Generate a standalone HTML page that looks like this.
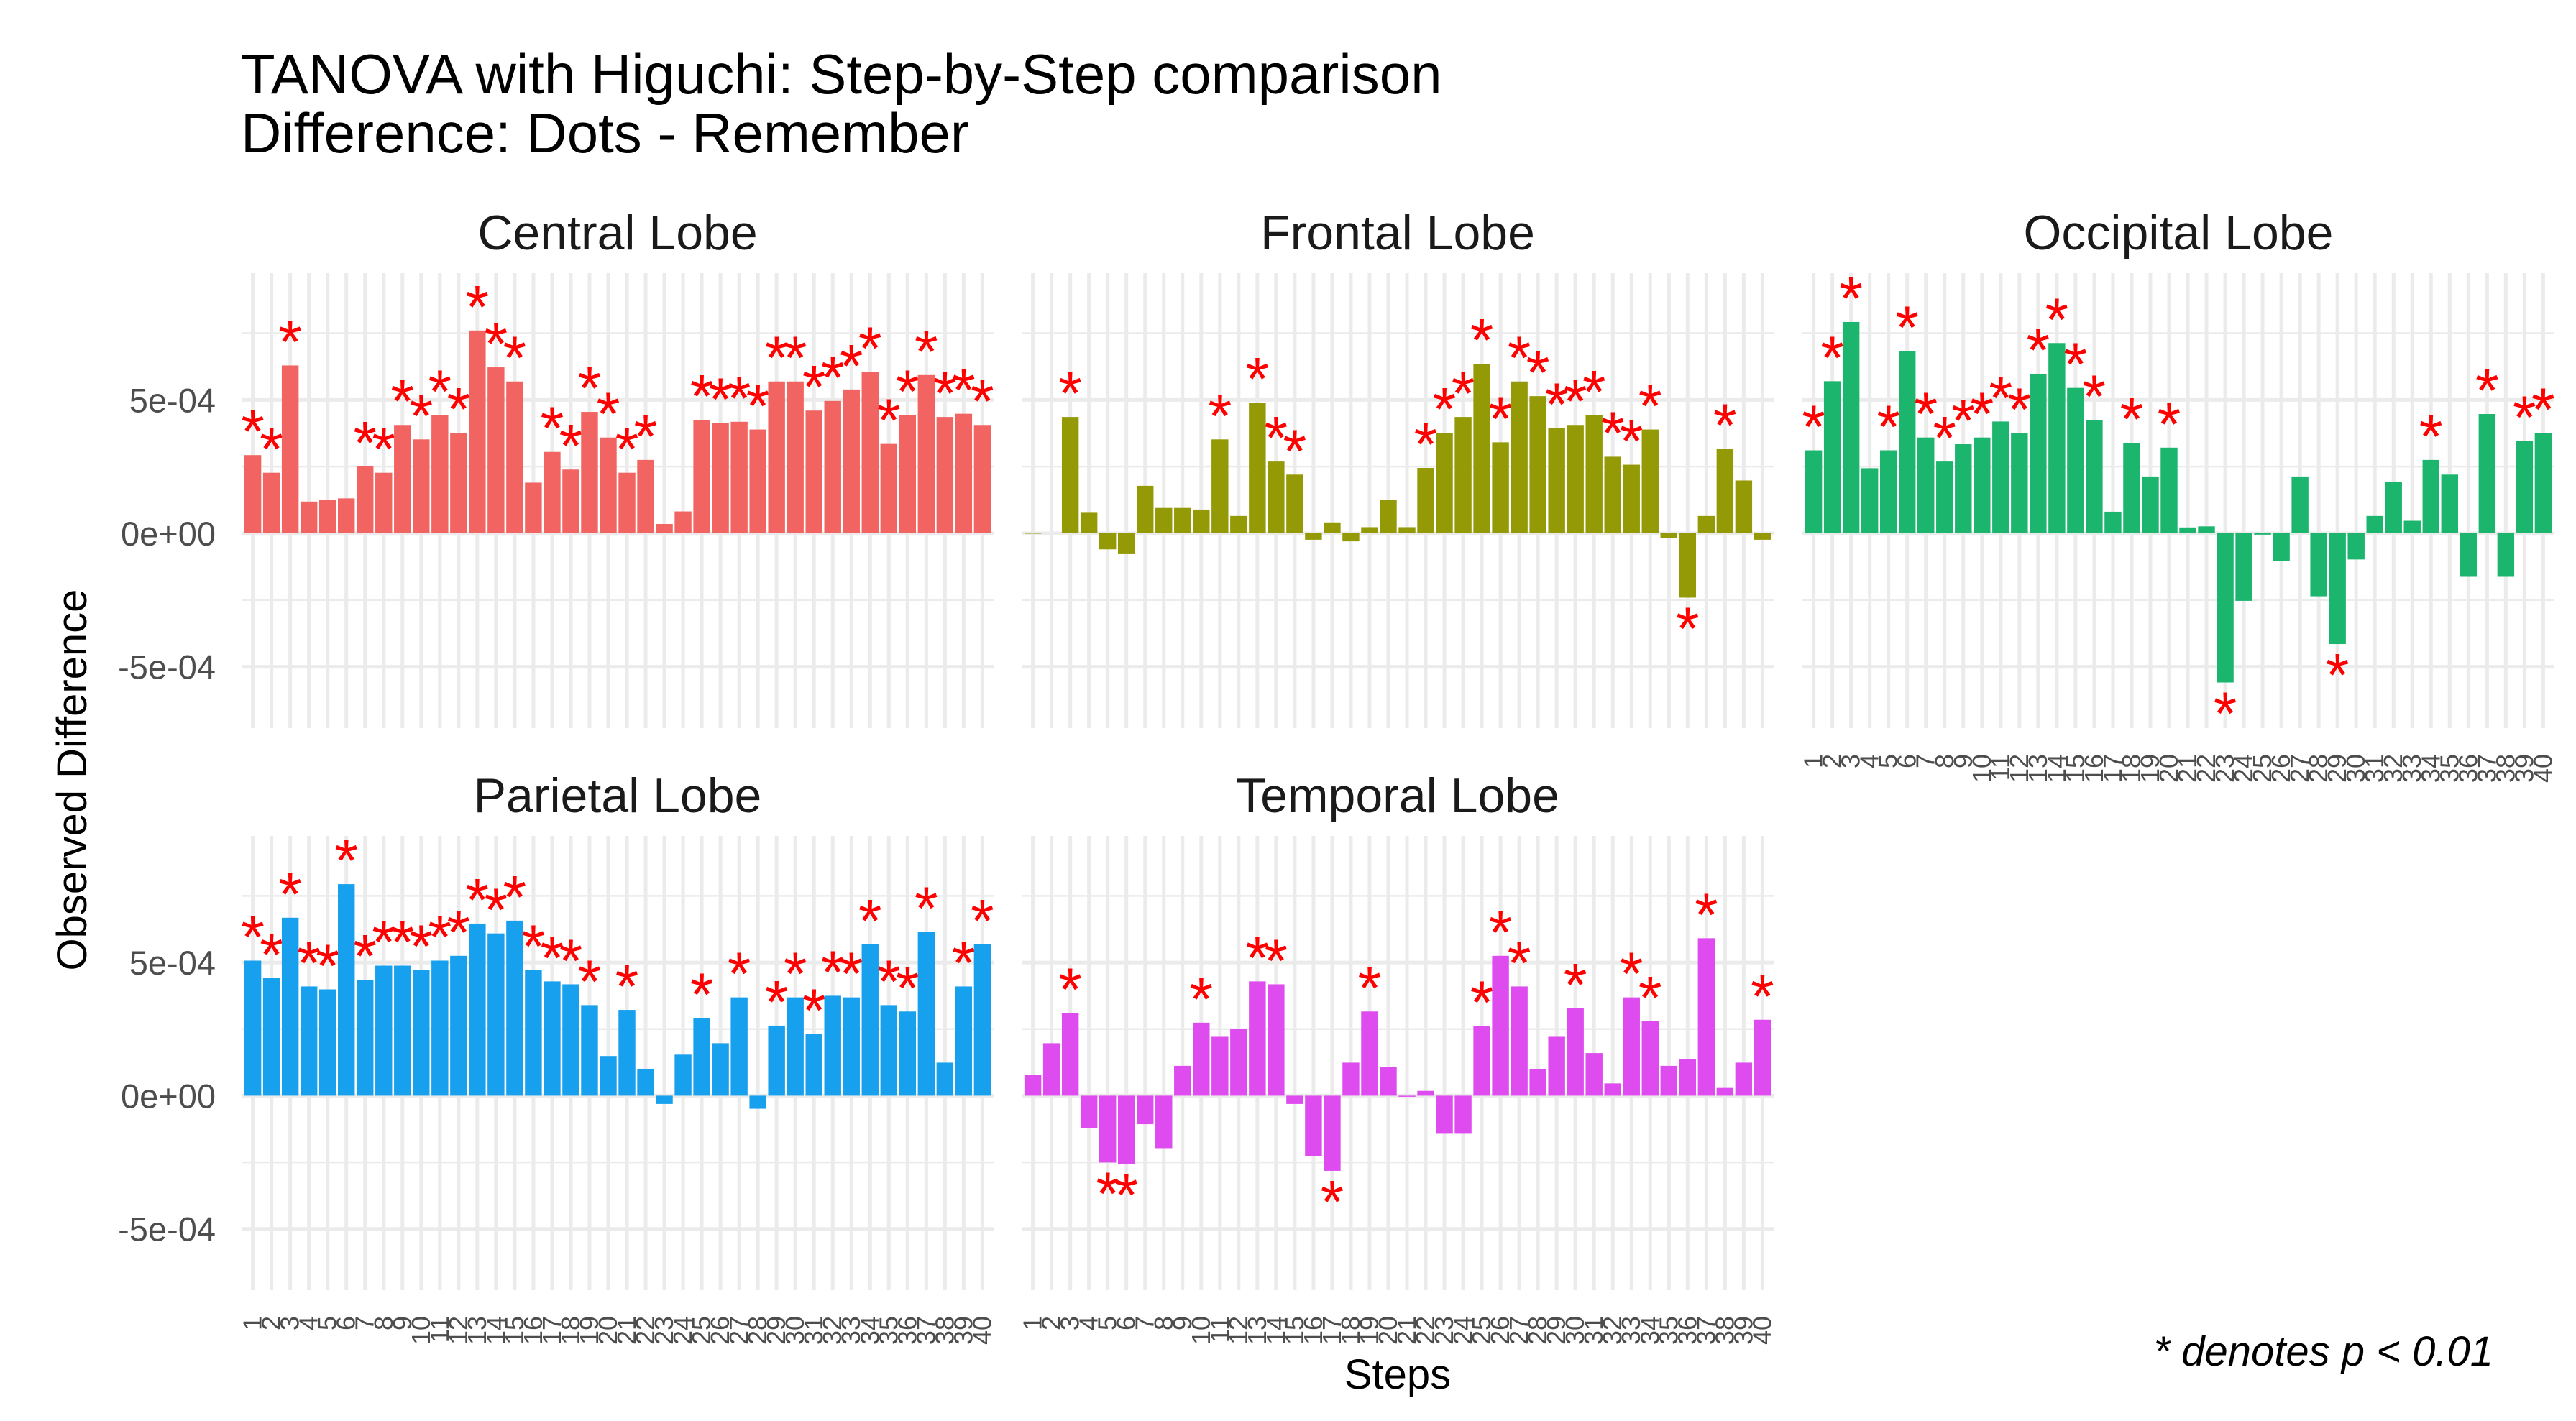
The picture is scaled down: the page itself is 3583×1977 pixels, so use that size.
<!DOCTYPE html>
<html><head><meta charset="utf-8"><style>
html,body{margin:0;padding:0;background:#fff;}
svg{display:block;font-family:"Liberation Sans",Arial,sans-serif;}
</style></head><body>
<svg id="chart" width="3583" height="1977" viewBox="0 0 3583 1977" xmlns="http://www.w3.org/2000/svg">
<text x="335" y="130" font-size="78" fill="#000">TANOVA with Higuchi: Step-by-Step comparison</text>
<text x="335" y="212" font-size="78" fill="#000">Difference: Dots - Remember</text>
<text transform="translate(120,1085) rotate(-90)" text-anchor="middle" font-size="58" fill="#000">Observed Difference</text>
<text x="1944" y="1932" text-anchor="middle" font-size="58" fill="#000">Steps</text>
<text x="3468" y="1900" text-anchor="end" font-size="58" font-style="italic" fill="#000">* denotes p &lt; 0.01</text>
<g id="panels"></g>
</svg>
<script>
const steps = Array.from({length:40},(_,i)=>String(i+1));
const panelNames = ["Central Lobe","Frontal Lobe","Occipital Lobe","Parietal Lobe","Temporal Lobe"];
const centralValues = [2.93,2.27,6.29,1.19,1.25,1.31,2.51,2.27,4.06,3.52,4.43,3.77,7.60,6.22,5.69,1.90,3.05,2.39,4.55,3.59,2.27,2.75,0.35,0.82,4.25,4.13,4.18,3.89,5.69,5.69,4.60,4.96,5.39,6.05,3.35,4.43,5.93,4.36,4.48,4.06];
const centralSig = [1,1,1,0,0,0,1,1,1,1,1,1,1,1,1,0,1,1,1,1,1,1,0,0,1,1,1,1,1,1,1,1,1,1,1,1,1,1,1,1];
const frontalValues = [0,0.02,4.36,0.77,-0.60,-0.78,1.78,0.95,0.95,0.89,3.52,0.65,4.90,2.69,2.20,-0.24,0.41,-0.30,0.23,1.24,0.23,2.45,3.77,4.36,6.35,3.41,5.69,5.14,3.95,4.06,4.42,2.87,2.57,3.89,-0.18,-2.41,0.65,3.17,1.98,-0.24];
const frontalSig = [0,0,1,0,0,0,0,0,0,0,1,0,1,1,1,0,0,0,0,0,0,1,1,1,1,1,1,1,1,1,1,1,1,1,0,1,0,1,0,0];
const occipitalValues = [3.11,5.70,7.92,2.44,3.11,6.83,3.59,2.69,3.34,3.59,4.19,3.76,5.98,7.13,5.45,4.24,0.81,3.39,2.13,3.21,0.22,0.26,-5.59,-2.53,-0.05,-1.04,2.13,-2.36,-4.15,-0.98,0.65,1.94,0.47,2.75,2.20,-1.63,4.47,-1.63,3.46,3.76];
const occipitalSig = [1,1,1,0,1,1,1,1,1,1,1,1,1,1,1,1,0,1,0,1,0,0,1,0,0,0,0,0,1,0,0,0,0,1,0,0,1,0,1,1];
const parietalValues = [5.07,4.41,6.68,4.10,3.99,7.94,4.35,4.88,4.88,4.72,5.07,5.25,6.46,6.09,6.57,4.72,4.29,4.18,3.40,1.49,3.22,1.01,-0.31,1.54,2.91,1.97,3.69,-0.49,2.63,3.69,2.32,3.75,3.69,5.68,3.40,3.16,6.15,1.24,4.10,5.68];
const parietalSig = [1,1,1,1,1,1,1,1,1,1,1,1,1,1,1,1,1,1,1,0,1,0,0,0,1,0,1,0,1,1,1,1,1,1,1,1,1,0,1,1];
const temporalValues = [0.78,1.97,3.10,-1.21,-2.51,-2.57,-1.07,-1.97,1.12,2.74,2.21,2.50,4.29,4.18,-0.31,-2.26,-2.82,1.24,3.16,1.07,-0.04,0.18,-1.43,-1.43,2.62,5.25,4.10,1.01,2.21,3.28,1.60,0.46,3.69,2.79,1.12,1.37,5.91,0.29,1.24,2.85];
const temporalSig = [0,0,1,0,1,1,0,0,0,1,0,0,1,1,0,0,1,0,1,0,0,0,0,0,1,1,1,0,0,1,0,0,1,1,0,0,1,0,0,1];
const yTickValues = [-5,0,5];
const yTickLabels = ["-5e-04","0e+00","5e-04"];
const yMinorValues = [-2.5,2.5,7.5];

const NS="http://www.w3.org/2000/svg";
const root=document.getElementById('panels');
function mk(tag,attrs,parent){const e=document.createElementNS(NS,tag);for(const k in attrs)e.setAttribute(k,attrs[k]);parent.appendChild(e);return e;}
const panelW=1046, yMin=-7.3, yMax=9.75;
const layout=[{x:336,top:380,bot:1013,ticks:false,ylab:true},{x:1421,top:380,bot:1013,ticks:false,ylab:false},{x:2507,top:380,bot:1013,ticks:true,ylab:false},{x:336,top:1163,bot:1795,ticks:true,ylab:true},{x:1421,top:1163,bot:1795,ticks:true,ylab:false}];
const colors=["#F26461","#949A05","#1BB56E","#17A0EE","#DE4BEE"];
const series=[[centralValues,centralSig],[frontalValues,frontalSig],[occipitalValues,occipitalSig],[parietalValues,parietalSig],[temporalValues,temporalSig]];
const slug=["central","frontal","occipital","parietal","temporal"];
series.forEach((s,p)=>{
  const L=layout[p];
  const band=panelW/(steps.length+0.2);
  const xs=i=>L.x+(i+0.6)*band;
  const ys=v=>L.bot-(v-yMin)/(yMax-yMin)*(L.bot-L.top);
  const g=mk('g',{},root);
  
  
  yMinorValues.forEach(v=>{const l=mk('line',{x1:L.x,x2:L.x+panelW,y1:ys(v),y2:ys(v),stroke:'#EBEBEB','stroke-width':2.5},g);
    
    });
  yTickValues.forEach((v,k)=>{const l=mk('line',{x1:L.x,x2:L.x+panelW,y1:ys(v),y2:ys(v),stroke:'#EBEBEB','stroke-width':5},g);
    
    
    if(L.ylab){const t=mk('text',{x:L.x-36,y:ys(v)+17,'text-anchor':'end','font-size':47,fill:'#4D4D4D'},g);t.textContent=yTickLabels[k];
      
      }
  });
  steps.forEach((st,i)=>{const l=mk('line',{x1:xs(i),x2:xs(i),y1:L.top,y2:L.bot,stroke:'#EBEBEB','stroke-width':5},g);
    
    });
  const strip=mk('text',{x:L.x+panelW/2,y:L.top-33,'text-anchor':'middle','font-size':68,fill:'#1A1A1A'},g);
  strip.textContent=panelNames[p];
  
  
  const vals=s[0], sig=s[1];
  vals.forEach((v,i)=>{
    const y0=ys(0), y1=ys(v);
    const r=mk('rect',{x:xs(i)-0.45*band,width:0.9*band,y:Math.min(y0,y1),height:Math.max(0.5,Math.abs(y1-y0)),fill:colors[p]},g);
    
    
    if(sig[i]){
      const cy = v>=0 ? y1-52 : y1+24;
      const t=mk('text',{x:xs(i),y:cy+48,'text-anchor':'middle','font-size':84,fill:'#FF0000'},g);
      t.textContent='*';
      
      
    }
    if(L.ticks){
      const t=mk('text',{transform:`translate(${xs(i)+12},${L.bot+36}) rotate(-90)`,'text-anchor':'end','font-size':36,fill:'#4D4D4D'},g);
      t.textContent=steps[i];
      
      
    }
  });
});
</script>
</body></html>
